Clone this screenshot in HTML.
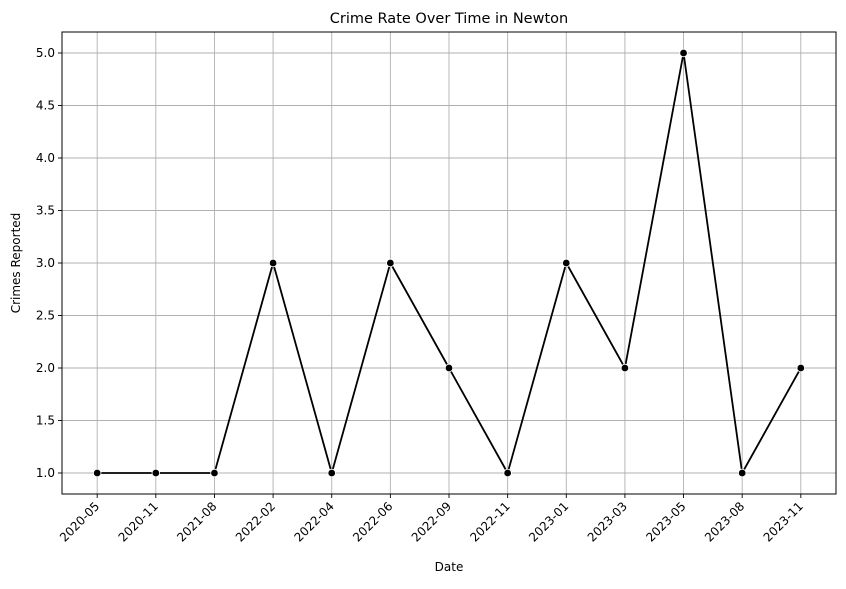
<!DOCTYPE html>
<html><head><meta charset="utf-8">
<style>
body{margin:0;background:#fff;font-family:"Liberation Sans","DejaVu Sans",sans-serif;}
svg text{font-family:"DejaVu Sans","Liberation Sans",sans-serif;}
</style></head>
<body>
<svg id="chart" width="846" height="584" xmlns="http://www.w3.org/2000/svg">
<text x="449" y="23" text-anchor="middle" font-size="14.5">Crime Rate Over Time in Newton</text>
<text x="449" y="571" text-anchor="middle" font-size="12">Date</text>
<text transform="translate(20,263) rotate(-90)" text-anchor="middle" font-size="12">Crimes Reported</text>
<g id="grid"></g><g id="axes"></g><g id="series"></g>
</svg>
<script>
const categories=["2020-05","2020-11","2021-08","2022-02","2022-04","2022-06","2022-09","2022-11","2023-01","2023-03","2023-05","2023-08","2023-11"];
const values=[1,1,1,3,1,3,2,1,3,2,5,1,2];
const yTicks=[1.0,1.5,2.0,2.5,3.0,3.5,4.0,4.5,5.0];
const L=62,R=836,T=32,B=494;
const ymin=0.8,ymax=5.2;
const n=categories.length;
const step=(R-L)/(n-1+1.2);
function xs(i){return L+(i+0.6)*step;}
function ys(v){return B-(v-ymin)/(ymax-ymin)*(B-T);}
const NS="http://www.w3.org/2000/svg";
function mk(tag,attrs,parent){const e=document.createElementNS(NS,tag);for(const k in attrs)e.setAttribute(k,attrs[k]);parent.appendChild(e);return e;}
const grid=document.getElementById('grid'),axes=document.getElementById('axes'),series=document.getElementById('series');
categories.forEach((c,i)=>{
 const x=xs(i);
 const g=mk('line',{x1:x,x2:x,y1:T,y2:B,stroke:'#b0b0b0','stroke-width':0.9},grid);
 
 
 mk('line',{x1:x,x2:x,y1:B,y2:B+4,stroke:'#000','stroke-width':0.9},axes);
 const t=mk('text',{x:x+3,y:B+13,'text-anchor':'end','font-size':12,transform:`rotate(-45 ${x+3} ${B+13})`},axes);
 t.textContent=c;
 
 
});
yTicks.forEach(v=>{
 const y=ys(v);
 const g=mk('line',{x1:L,x2:R,y1:y,y2:y,stroke:'#b0b0b0','stroke-width':0.9},grid);
 
 
 mk('line',{x1:L-4,x2:L,y1:y,y2:y,stroke:'#000','stroke-width':0.9},axes);
 const t=mk('text',{x:L-7,y:y+4,'text-anchor':'end','font-size':12},axes);
 t.textContent=v.toFixed(1);
 
 
});
const fr=mk('rect',{x:L,y:T,width:R-L,height:B-T,fill:'none',stroke:'#000','stroke-width':1},axes);


const pl=mk('polyline',{points:values.map((v,i)=>xs(i)+','+ys(v)).join(' '),fill:'none',stroke:'#000','stroke-width':1.8},series);


values.forEach((v,i)=>{
 const c=mk('circle',{cx:xs(i),cy:ys(v),r:3.8,fill:'#000',stroke:'#fff','stroke-width':0.8},series);
 
 
});
</script>
</body></html>
